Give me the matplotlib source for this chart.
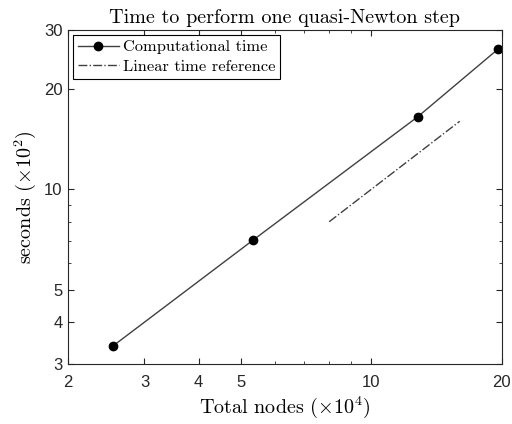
import matplotlib
matplotlib.use('Agg')
import matplotlib.pyplot as plt
from matplotlib.ticker import FixedLocator, FixedFormatter, LogLocator, NullFormatter

# data
nodes = [2.54, 5.34, 12.8, 19.6]        # x 10^4
seconds = [3.40, 7.05, 16.5, 26.3]      # x 10^2
ref_x = [8, 16]
ref_y = [8, 16]

xticks = [2, 3, 4, 5, 10, 20]
yticks = [3, 4, 5, 10, 20, 30]

plt.rcParams['mathtext.fontset'] = 'cm'
serif = 'cmr10'

fig = plt.figure(figsize=(5.12, 4.24), dpi=100)
ax = fig.add_axes([0.133, 0.1415, 0.847, 0.7875])

ax.plot(nodes, seconds, color='#404040', lw=1.0, marker='o', ms=6,
        mfc='black', mec='black', label='Computational time')
ax.plot(ref_x, ref_y, color='#404040', lw=1.0, ls='-.', label='Linear time reference')

ax.set_xscale('log')
ax.set_yscale('log')
ax.set_xlim(2, 20)
ax.set_ylim(3, 30)

ax.xaxis.set_major_locator(FixedLocator(xticks))
ax.xaxis.set_major_formatter(FixedFormatter([str(t) for t in xticks]))
ax.yaxis.set_major_locator(FixedLocator(yticks))
ax.yaxis.set_major_formatter(FixedFormatter([str(t) for t in yticks]))
ax.xaxis.set_minor_locator(LogLocator(subs='all'))
ax.yaxis.set_minor_locator(LogLocator(subs='all'))
ax.xaxis.set_minor_formatter(NullFormatter())
ax.yaxis.set_minor_formatter(NullFormatter())

ax.tick_params(which='both', direction='in', top=True, right=True, color='#262626')
ax.tick_params(which='major', length=4, labelsize=12)
ax.tick_params(which='minor', length=2)
ax.tick_params(axis='x', which='major', pad=8)
ax.tick_params(axis='y', which='major', pad=4)
for lab in ax.get_xticklabels() + ax.get_yticklabels():
    lab.set_fontfamily('Liberation Sans')
    lab.set_color('#262626')
for s in ax.spines.values():
    s.set_color('#262626')
    s.set_linewidth(0.8)

ax.set_title('Time to perform one quasi-Newton step', family=serif, fontsize=14.5, pad=5)
ax.set_xlabel(r'Total nodes ($\times10^4$)', family=serif, fontsize=14.5, labelpad=3)
ax.set_ylabel(r'seconds ($\times10^2$)', family=serif, fontsize=14.5, labelpad=4)

leg = ax.legend(loc='upper left', prop={'family': serif, 'size': 11.8}, fancybox=False,
                edgecolor='black', framealpha=1, borderaxespad=0.3, borderpad=0.3,
                handlelength=2.5, labelspacing=0.3, handletextpad=0.25)
leg.get_frame().set_linewidth(0.8)

fig.savefig('out.png', dpi=100)
